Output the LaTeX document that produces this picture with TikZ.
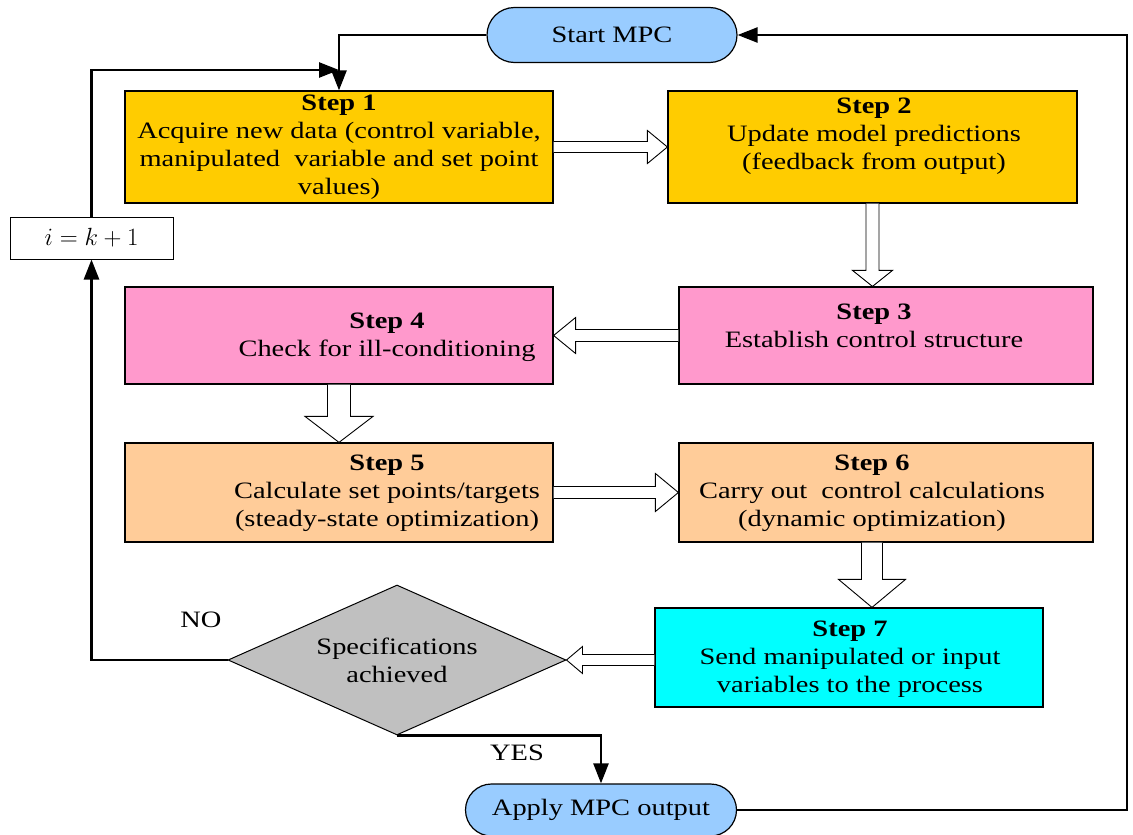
\documentclass[tikz,border=0pt]{standalone}
\usepackage{fontspec}
\setmainfont{Liberation Serif}[FakeStretch=1.21]
\usetikzlibrary{shapes.geometric,shapes.misc,arrows.meta,calc}
\definecolor{yel}{HTML}{FFCC00}
\definecolor{pnk}{HTML}{FF99CC}
\definecolor{pch}{HTML}{FFCC99}
\definecolor{cyn}{HTML}{00FFFF}
\definecolor{pillblue}{HTML}{99CCFF}
\definecolor{dgray}{HTML}{C0C0C0}
\newcommand\hollowh[5]{\draw[hollow] ($(#1)+(0,#3)$) -- ($(#2)+({-1*(#5)},#3)$) -- ($(#2)+({-1*(#5)},#4)$) -- (#2) -- ($(#2)+({-1*(#5)},{-1*(#4)})$) -- ($(#2)+({-1*(#5)},{-1*(#3)})$) -- ($(#1)+(0,{-1*(#3)})$);}
\newcommand\hollowv[5]{\draw[hollow] ($(#1)+(#3,0)$) -- ($(#2)+(#3,{-1*(#5)})$) -- ($(#2)+(#4,{-1*(#5)})$) -- (#2) -- ($(#2)+({-1*(#4)},{-1*(#5)})$) -- ($(#2)+({-1*(#3)},{-1*(#5)})$) -- ($(#1)+({-1*(#3)},0)$);}
\begin{document}
\begin{tikzpicture}[x=1pt,y=-1pt,
 font=\fontsize{23.5}{28}\selectfont,
 stepbox/.style={draw=black, line width=1.2pt, inner sep=0pt},
 pill/.style={rounded rectangle, draw=black, line width=1.2pt, fill=pillblue, inner sep=0pt},
 txt/.style={align=center, inner sep=0pt},
 conn/.style={line width=2.5pt, -{Triangle[length=20pt,width=15pt]}},
 hollow/.style={draw=black, fill=white, line width=0.9pt, line join=miter},
]
\useasboundingbox (0,0) rectangle (1133,835);
% terminals
\node[pill, minimum width=250pt, minimum height=55pt] (start) at (612,35) {Start MPC};
\node[pill, minimum width=271pt, minimum height=52pt] (apply) at (601,810) {Apply MPC output};
% step boxes
\node[stepbox, fill=yel, minimum width=428pt, minimum height=112pt] (s1) at (339,147) {};
\node[txt] (s1t) at (339,147) {\textbf{Step 1}\\Acquire new data (control variable,\\manipulated~ variable and set point\\values)};
\node[stepbox, fill=yel, minimum width=409pt, minimum height=112pt] (s2) at (872.5,147) {};
\node[txt] (s2t) at (874,136) {\textbf{Step 2}\\Update model predictions\\(feedback from output)};
\node[stepbox, fill=pnk, minimum width=414pt, minimum height=97pt] (s3) at (886,335.5) {};
\node[txt] (s3t) at (874,326) {\textbf{Step 3}\\Establish control structure};
\node[stepbox, fill=pnk, minimum width=428pt, minimum height=97pt] (s4) at (339,335.5) {};
\node[txt] (s4t) at (387,337) {\textbf{Step 4}\\Check for ill-conditioning};
\node[stepbox, fill=pch, minimum width=428pt, minimum height=99pt] (s5) at (339,492.5) {};
\node[txt] (s5t) at (387,493) {\textbf{Step 5}\\Calculate set points/targets\\(steady-state optimization)};
\node[stepbox, fill=pch, minimum width=414pt, minimum height=99pt] (s6) at (886,492.5) {};
\node[txt] (s6t) at (872,493) {\textbf{Step 6}\\Carry out~ control calculations\\(dynamic optimization)};
\node[stepbox, fill=cyn, minimum width=388pt, minimum height=99pt] (s7) at (849,657.5) {};
\node[txt] (s7t) at (850,659) {\textbf{Step 7}\\Send manipulated or input\\variables to the process};
% decision
\node[diamond, draw=black, line width=1pt, fill=dgray, aspect=2.25, minimum width=338pt, minimum height=150pt, inner sep=0pt, align=center] (dia) at (397,660) {Specifications\\achieved};
% counter
\node[draw=black, line width=1pt, fill=white, minimum width=163pt, minimum height=42pt, inner sep=0pt] (ibox) at (91.5,238) {$i=k+1$};
% labels
\node[txt] (no) at (201,620) {NO};
\node[txt] (yes) at (517,753) {YES};
% connectors
\coordinate (j) at (s1.north |- 0,70);
\draw[conn] (start.west) -| (s1.north);
\draw[conn] (ibox.north) |- (j);
\draw[conn] (dia.west) -| (ibox.south);
\draw[conn] (dia.south) -| (apply.north);
\draw[conn] (apply.east) -- ++(390,0) |- (start.east);
% hollow block arrows
\hollowh{s1.east}{s2.west}{5.5}{16.5}{20}
\coordinate (t3) at (s3.north -| s2.south);
\hollowv{s2.south}{t3}{6.5}{20}{16}
\hollowh{s3.west}{s4.east}{6}{18}{-22}
\hollowv{s4.south}{s5.north}{11.5}{34}{26}
\hollowh{s5.east}{s6.west}{6}{19}{23}
\coordinate (t7) at ($(s7.north)+(23,0)$);
\coordinate (f7) at (s6.south -| t7);
\hollowv{f7}{t7}{10.5}{33.5}{28}
\coordinate (f8) at (s7.west |- dia.east);
\hollowh{f8}{dia.east}{5.5}{13.5}{-16}
\end{tikzpicture}
\end{document}
